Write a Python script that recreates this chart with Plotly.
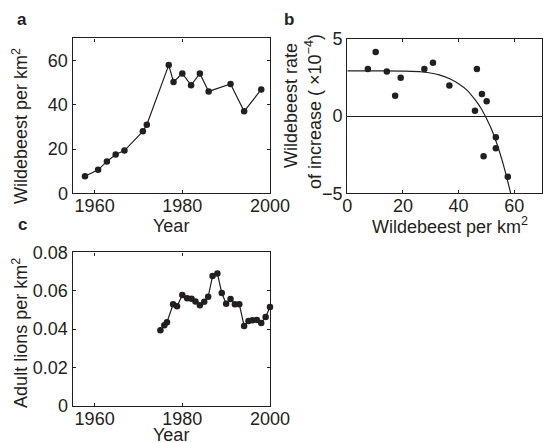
import plotly.graph_objects as go

# ---------------- data ----------------
# Panel a: wildebeest density over time
a_year = [1957.8, 1960.8, 1962.8, 1964.8, 1966.8, 1971.0, 1971.9, 1976.9, 1978.0,
          1980.0, 1982.0, 1984.0, 1986.0, 1991.0, 1994.1, 1998.0]
a_wildebeest = [7.7, 10.6, 14.4, 17.5, 19.3, 28.0, 31.0, 57.9, 50.3,
                54.1, 48.8, 54.1, 46.0, 49.4, 37.0, 46.9]

# Panel b: rate of increase vs density (points + fitted curve)
b_density = [7.4, 10.2, 14.2, 17.2, 19.2, 27.7, 30.8, 36.7, 45.9, 46.6,
             48.4, 50.1, 49.0, 53.4, 53.4, 57.7]
b_rate = [3.05, 4.16, 2.90, 1.32, 2.49, 3.05, 3.46, 1.99, 0.35, 3.05,
          1.43, 0.97, -2.60, -1.36, -2.08, -3.92]
b_fit_density = [0, 10, 20, 27, 33, 37, 40, 43, 46, 48, 50, 52, 54, 56, 58, 59]
b_fit_rate = [2.93, 2.93, 2.92, 2.86, 2.68, 2.41, 2.10, 1.69, 1.05, 0.53,
              -0.14, -0.92, -1.90, -3.08, -4.45, -5.2]

# Panel c: adult lion density over time
c_year = [1975.0, 1975.9, 1976.5, 1977.9, 1978.8, 1980.0, 1981.1, 1982.1, 1983.0,
          1984.0, 1985.0, 1985.9, 1986.9, 1988.0, 1989.0, 1990.0, 1991.0, 1992.0,
          1993.0, 1994.1, 1995.1, 1996.0, 1997.0, 1998.0, 1999.0, 2000.0]
c_lions = [0.0393, 0.0419, 0.0435, 0.0529, 0.0518, 0.0577, 0.0560, 0.0558, 0.0544,
           0.0524, 0.0542, 0.0568, 0.0676, 0.0690, 0.0588, 0.0532, 0.0556, 0.0529,
           0.0529, 0.0416, 0.0442, 0.0445, 0.0447, 0.0431, 0.0463, 0.0515]

year_ticks = [1960, 1980, 2000]
a_yticks = [0, 20, 40, 60]
b_xticks = [0, 20, 40, 60]
b_yticks = [-5, 0, 5]
c_yticks = [0, 0.02, 0.04, 0.06, 0.08]
c_yticktext = ["0", "0.02", "0.04", "0.06", "0.08"]

# ---------------- layout helpers ----------------
W, H = 543, 443
FONT = "Liberation Sans, Arial, Helvetica, sans-serif"
INK = "#231f20"


def px_x(v):
    return v / W


def px_y(v):
    return 1 - v / H


line_style = dict(color=INK, width=1.2)
marker_style = dict(color=INK, size=6.5)

fig = go.Figure()

fig.add_trace(go.Scatter(x=a_year, y=a_wildebeest, mode="lines+markers",
                         line=line_style, marker=marker_style,
                         xaxis="x", yaxis="y", cliponaxis=False))
fig.add_trace(go.Scatter(x=b_fit_density, y=b_fit_rate, mode="lines",
                         line=dict(color=INK, width=1.2, shape="spline"),
                         xaxis="x2", yaxis="y2"))
fig.add_trace(go.Scatter(x=b_density, y=b_rate, mode="markers",
                         marker=marker_style, xaxis="x2", yaxis="y2",
                         cliponaxis=False))
fig.add_trace(go.Scatter(x=c_year, y=c_lions, mode="lines+markers",
                         line=line_style, marker=marker_style,
                         xaxis="x3", yaxis="y3", cliponaxis=False))

axis_common = dict(showline=True, linecolor=INK, linewidth=1.4, mirror="ticks",
                   ticks="inside", ticklen=3, tickwidth=1, tickcolor=INK,
                   showgrid=False, zeroline=False, automargin=False,
                   tickfont=dict(family=FONT, size=18, color=INK))
x_common = dict(axis_common, ticklabelstandoff=-4)

fig.update_layout(
    template="none",
    width=W, height=H,
    margin=dict(l=0, r=0, t=0, b=0, pad=0, autoexpand=False),
    paper_bgcolor="white", plot_bgcolor="white",
    showlegend=False,
    font=dict(family=FONT, size=18, color=INK),
    xaxis=dict(domain=[px_x(72.7), px_x(270)], range=[1955, 2000],
               tickvals=year_ticks, anchor="y", **x_common),
    yaxis=dict(domain=[px_y(193.3), px_y(38.3)], range=[0, 70],
               tickvals=a_yticks, anchor="x", **axis_common),
    xaxis2=dict(domain=[px_x(347.3), px_x(542)], range=[0, 70],
                tickvals=b_xticks, anchor="y2", **x_common),
    yaxis2=dict(domain=[px_y(193.3), px_y(39)], range=[-5, 5],
                tickvals=b_yticks, anchor="x2", **{**axis_common,
                "zeroline": True, "zerolinecolor": INK, "zerolinewidth": 1.1}),
    xaxis3=dict(domain=[px_x(72.7), px_x(270)], range=[1955, 2000],
                tickvals=year_ticks, anchor="y3", **x_common),
    yaxis3=dict(domain=[px_y(405.7), px_y(252.3)], range=[0, 0.08],
                tickvals=c_yticks, ticktext=c_yticktext, anchor="x3", **axis_common),
)


def ann(text, x, y, size=18, bold=False, angle=0):
    fig.add_annotation(
        text=f"<b>{text}</b>" if bold else text,
        x=px_x(x), y=px_y(y), xref="paper", yref="paper",
        xanchor="center", yanchor="middle", showarrow=False,
        textangle=angle, font=dict(family=FONT, size=size, color=INK))


# panel letters
ann("a", 21.5, 19, size=17, bold=True)
ann("b", 289, 19, size=17, bold=True)
ann("c", 22, 224, size=17, bold=True)

# axis titles
ann("Year", 171, 225.7)
ann("Wildebeest per km<sup>2</sup>", 450, 225.7)
ann("Year", 171, 434.7)
ann("Wildebeest per km<sup>2</sup>", 20.4, 125.7, angle=-90)
ann("Wildebeest rate", 291, 106, angle=-90)
ann("of increase ( \u00d710<sup>\u22124</sup>)", 313, 112, angle=-90)
ann("Adult lions per km<sup>2</sup>", 20.4, 332.5, angle=-90)

fig.write_html("out.html", config={"displayModeBar": False},
               post_script="document.body.style.margin='0';")
